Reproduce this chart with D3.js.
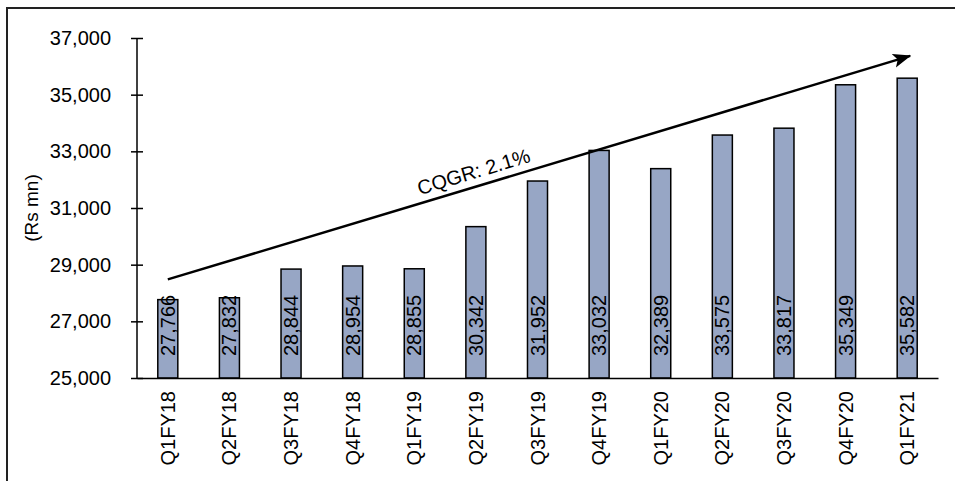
<!DOCTYPE html>
<html>
<head>
<meta charset="utf-8">
<script src="https://cdn.jsdelivr.net/npm/d3@7"></script>
<style>
  html, body { margin: 0; padding: 0; background: #fff; }
  svg { display: block; font-family: "Liberation Sans", Arial, sans-serif; }
</style>
</head>
<body>
<div id="chart"></div>
<script>
// quarters and revenue (Rs mn)
const quarters = ["Q1FY18", "Q2FY18", "Q3FY18", "Q4FY18", "Q1FY19", "Q2FY19", "Q3FY19",
                  "Q4FY19", "Q1FY20", "Q2FY20", "Q3FY20", "Q4FY20", "Q1FY21"];
const revenue = [27766, 27832, 28844, 28954, 28855, 30342, 31952, 33032, 32389, 33575, 33817, 35349, 35582];
const yTicks = [25000, 27000, 29000, 31000, 33000, 35000, 37000];
// trend arrow end points (category, value)
const trendStart = ["Q1FY18", 28480];
const trendEnd = ["Q1FY21", 36370];
const trendLabel = "CQGR: 2.1%";

const W = 955, H = 481;
const margin = {top: 38, right: 17, bottom: 103, left: 137};
const width = W - margin.left - margin.right,
      height = H - margin.top - margin.bottom;

const svg = d3.select("#chart").append("svg")
    .attr("width", W)
    .attr("height", H);

// outer frame (cropped at right and bottom)
svg.append("rect")
    .attr("x", 7).attr("y", 8)
    .attr("width", W + 20).attr("height", H + 20)
    .attr("fill", "none")
    .attr("stroke", "#222")
    .attr("stroke-width", 2);

const g = svg.append("g")
    .attr("transform", `translate(${margin.left},${margin.top})`);

const x = d3.scaleBand()
    .domain(quarters)
    .range([0, width])
    .paddingInner(0.675)
    .paddingOuter(0.3375);

const y = d3.scaleLinear()
    .domain([25000, 37000])
    .range([height, 0]);

const fmt = d3.format(",");

// y axis
const yAxis = g.append("g")
    .call(d3.axisLeft(y).tickValues(yTicks).tickFormat(fmt).tickSize(6).tickPadding(14));
yAxis.select(".domain").attr("stroke", "#000").attr("stroke-width", 1.5).attr("d", `M0,0V${height}`);
yAxis.selectAll(".tick line").attr("x2", -6).attr("x1", 6).attr("stroke", "#000").attr("stroke-width", 1.5);
yAxis.selectAll(".tick text")
    .attr("x", -26)
    .style("font-size", "20px")
    .attr("fill", "#000");

// bars
g.selectAll(".bar")
    .data(revenue)
    .join("rect")
    .attr("class", "bar")
    .attr("x", (d, i) => x(quarters[i]))
    .attr("y", d => y(d))
    .attr("width", x.bandwidth())
    .attr("height", d => height - y(d))
    .attr("fill", "#97a6c5")
    .attr("stroke", "#000")
    .attr("stroke-width", 1.5);

// x axis
const xAxis = g.append("g")
    .attr("transform", `translate(0,${height})`)
    .call(d3.axisBottom(x).tickSize(0).tickPadding(0));
xAxis.select(".domain").attr("stroke", "#000").attr("stroke-width", 1.5);
xAxis.selectAll(".tick text")
    .attr("transform", "rotate(-90)")
    .attr("x", -13)
    .attr("y", 0)
    .attr("dy", "0.35em")
    .style("text-anchor", "end")
    .style("font-size", "20px")
    .attr("fill", "#000");

// value labels inside the bars
g.selectAll(".val")
    .data(revenue)
    .join("text")
    .attr("class", "val")
    .attr("transform", (d, i) =>
        `translate(${x(quarters[i]) + x.bandwidth() / 2},${height - 22}) rotate(-90)`)
    .attr("dy", "0.35em")
    .style("text-anchor", "start")
    .style("font-size", "20px")
    .attr("fill", "#000")
    .text(d => fmt(d));

// y axis title
svg.append("text")
    .attr("transform", `translate(31,${margin.top + height / 2}) rotate(-90)`)
    .attr("dy", "0.35em")
    .style("text-anchor", "middle")
    .style("font-size", "19px")
    .attr("fill", "#000")
    .text("(Rs mn)");

// trend arrow
svg.append("defs").append("marker")
    .attr("id", "arrowhead")
    .attr("viewBox", "0 -8 18 16")
    .attr("refX", 17).attr("refY", 0)
    .attr("markerWidth", 18).attr("markerHeight", 16)
    .attr("markerUnits", "userSpaceOnUse")
    .attr("orient", "auto")
    .append("path")
    .attr("d", "M0,-7L18,0L0,7L4,0Z")
    .attr("fill", "#000");

const x0 = x(trendStart[0]) + x.bandwidth() / 2, y0 = y(trendStart[1]);
const x1 = x(trendEnd[0]) + x.bandwidth() / 2 + 3, y1 = y(trendEnd[1]);
g.append("line")
    .attr("x1", x0).attr("y1", y0)
    .attr("x2", x1).attr("y2", y1)
    .attr("stroke", "#000")
    .attr("stroke-width", 2.5)
    .attr("marker-end", "url(#arrowhead)");

const ang = Math.atan2(y1 - y0, x1 - x0) * 180 / Math.PI;
const tx = 478 - margin.left;
const ty = y0 + (y1 - y0) * (tx - x0) / (x1 - x0);
g.append("text")
    .attr("transform", `translate(${tx},${ty}) rotate(${ang})`)
    .attr("y", -8)
    .style("text-anchor", "middle")
    .style("font-size", "20px")
    .attr("fill", "#000")
    .text(trendLabel);
</script>
</body>
</html>
